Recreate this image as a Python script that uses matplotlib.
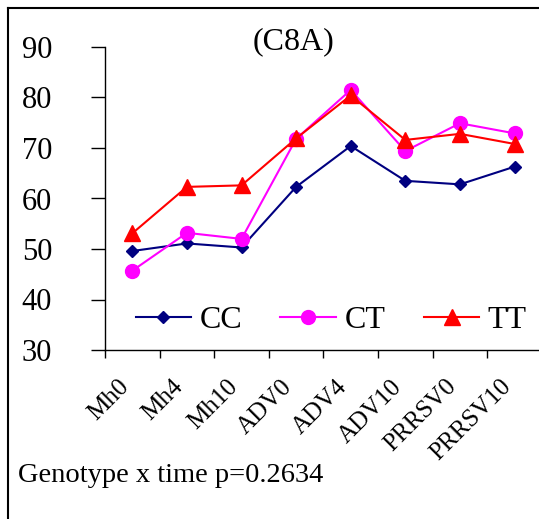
import matplotlib
matplotlib.use("Agg")
import matplotlib.pyplot as plt
from matplotlib.lines import Line2D
from matplotlib.transforms import ScaledTranslation

categories = ["Mh0", "Mh4", "Mh10", "ADV0", "ADV4", "ADV10", "PRRSV0", "PRRSV10"]
cc = [49.6, 51.1, 50.3, 62.3, 70.4, 63.5, 62.8, 66.3]
ct = [45.7, 53.2, 52.0, 71.8, 81.5, 69.4, 74.9, 72.9]
tt = [53.1, 62.3, 62.6, 71.9, 80.4, 71.6, 72.8, 70.8]
yticks = [30, 40, 50, 60, 70, 80, 90]

plt.rcParams['font.family'] = ['Liberation Serif', 'DejaVu Serif']

W, H = 539, 519
fig = plt.figure(figsize=(W/100, H/100), dpi=100)
ax = fig.add_axes([105/W, (H-350)/H, 433/W, 303/H])

x = list(range(len(categories)))
ax.plot(x, cc, color='#000080', marker='D', markersize=6.5, lw=1.5, label='CC', zorder=3)
ax.plot(x, ct, color='#FF00FF', marker='o', markersize=10, lw=1.5, label='CT', zorder=3)
ax.plot(x, tt, color='#FF0000', marker='^', markersize=11, lw=1.5, label='TT', zorder=4)

ax.set_ylim(30, 90)
ax.set_yticks(yticks)
ax.set_xlim(-0.5, 7.43)
ax.set_xticks(x)
ax.set_xticklabels(categories, rotation=45, ha='right', va='center',
                   rotation_mode='anchor', fontsize=18)
ax.tick_params(axis='x', which='major', length=0, pad=24)
shift = ScaledTranslation(-7/100, 0, fig.dpi_scale_trans)
for lab in ax.get_xticklabels():
    lab.set_transform(lab.get_transform() + shift)
ax.set_xticks([i - 0.5 for i in range(8)], minor=True)
ax.tick_params(axis='x', which='minor', length=6, width=1, direction='out')
ax.tick_params(axis='y', length=10, width=1, direction='out', labelsize=22, pad=28)
for s in ['top', 'right']:
    ax.spines[s].set_visible(False)
for s in ['left', 'bottom']:
    ax.spines[s].set_linewidth(1)

fig.text(293/W, 1 - 42/H, "(C8A)", ha='center', va='center', fontsize=23)

leg = ax.legend(loc='center', bbox_to_anchor=(331/W, 1 - 320/H),
                bbox_transform=fig.transFigure, ncol=3, frameon=False,
                fontsize=23, handlelength=1.75, columnspacing=1.2, handletextpad=0.25,
                borderaxespad=0.0, borderpad=0.0)

fig.text(18/W, 1 - 482/H, "Genotype x time p=0.2634", ha='left', va='baseline', fontsize=20.5)

fig.add_artist(Line2D([8/W, 1], [1 - 7.5/H, 1 - 7.5/H], color='black', lw=1.5))
fig.add_artist(Line2D([8/W, 8/W], [0, 1 - 7.5/H], color='black', lw=1.5))

fig.savefig("out.png", dpi=100)
